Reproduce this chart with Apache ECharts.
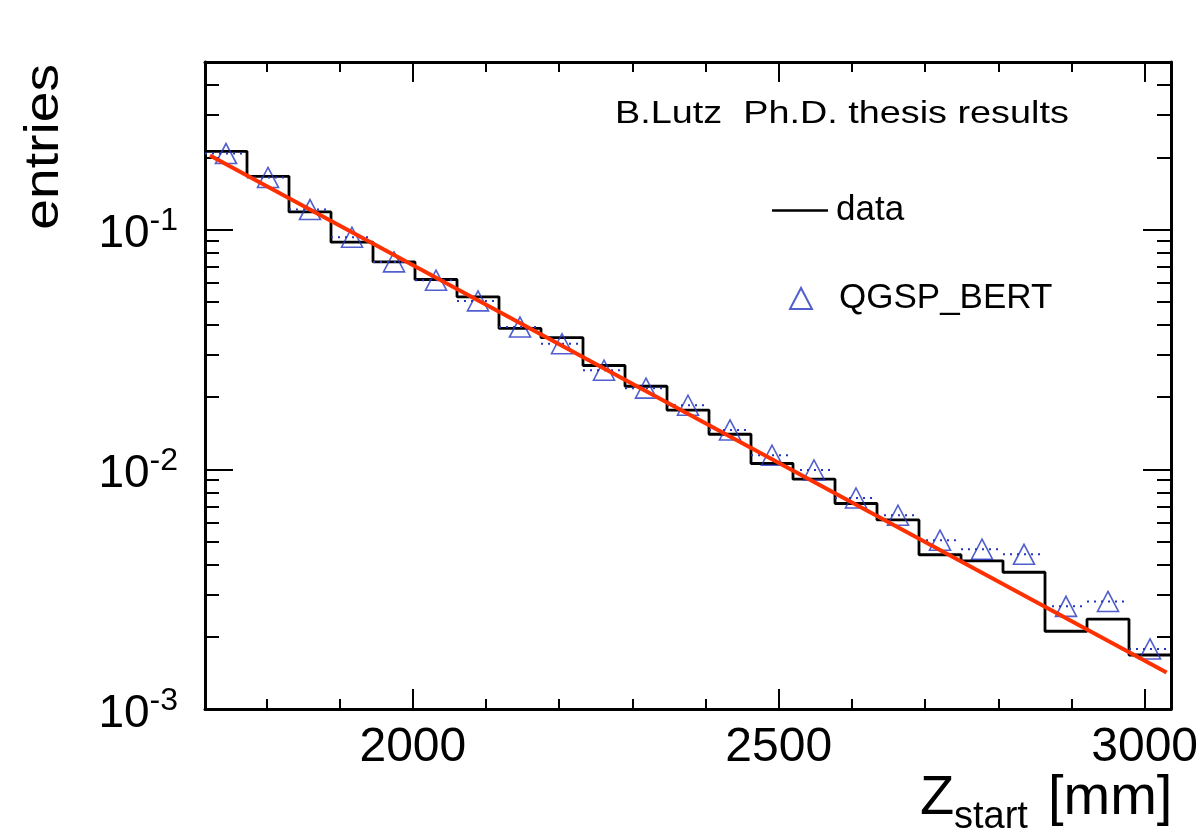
<!DOCTYPE html>
<html><head><meta charset="utf-8">
<script src="https://cdn.jsdelivr.net/npm/echarts@6/dist/echarts.min.js"></script>
<style>html,body{margin:0;padding:0;background:#fff}#c{width:1203px;height:837px}</style>
</head><body><div id="c"></div>
<script>
const FONT = '"Liberation Sans", Arial, Helvetica, sans-serif';
const BLUE = '#2536c0';
const RED = '#ff3000';

// ---- data ----
const xRange = [1716, 3036];
const nBins = 23;
const yRange = [0.001, 0.5];
const dataVals = [0.212, 0.1668, 0.1184, 0.0886, 0.0733, 0.0619, 0.0524, 0.0387, 0.0354, 0.0271, 0.0222, 0.01766,
  0.0140, 0.01057, 0.00909, 0.00720, 0.00615, 0.00440, 0.00415, 0.00372, 0.00211, 0.00237, 0.00168];
const mcVals = [0.2075, 0.165, 0.1212, 0.0929, 0.0733, 0.0615, 0.0504, 0.0392, 0.0334, 0.0259, 0.0218, 0.0185,
  0.01459, 0.01144, 0.00993, 0.00759, 0.00643, 0.00506, 0.00464, 0.00442, 0.00268, 0.00281, 0.00178];
const fitLine = [[1722.8, 0.2035], [3030, 0.00142]];
const xMajorTicks = [2000, 2500, 3000];
const xTickLabels = ['2000', '2500', '3000'];
const xMinorTicks = [1800, 1900, 2000, 2100, 2200, 2300, 2400, 2500, 2600, 2700, 2800, 2900, 3000];
const yMajorTicks = [0.001, 0.01, 0.1];
const yTickExponents = ['-3', '-2', '-1'];
const yMinorTicks = [0.002, 0.003, 0.004, 0.005, 0.006, 0.007, 0.008, 0.009,
  0.02, 0.03, 0.04, 0.05, 0.06, 0.07, 0.08, 0.09, 0.2, 0.3, 0.4, 0.5];

// ---- derived ----
const binW = (xRange[1] - xRange[0]) / nBins;
const edges = [];
for (let i = 0; i <= nBins; i++) edges.push(xRange[0] + i * binW);
const histPts = dataVals.map((v, i) => [edges[i], v]);
histPts.push([edges[nBins], dataVals[nBins - 1]]);
const mcBars = mcVals.map((v, i) => [edges[i], edges[i + 1], v]);
const mcPts = mcVals.map((v, i) => [(edges[i] + edges[i + 1]) / 2, v]);

function xAx(pos, ticks, len, showLine, labels) {
  return {
    type: 'value', position: pos, min: xRange[0], max: xRange[1],
    axisLine: { show: showLine, onZero: false, lineStyle: { color: '#000', width: 3 } },
    axisTick: { show: true, inside: true, length: len, customValues: ticks, lineStyle: { color: '#000', width: 2 } },
    axisLabel: labels ? {
      show: true, customValues: ticks, margin: 15, color: '#000', fontFamily: FONT, fontSize: 48,
      formatter: v => xTickLabels[xMajorTicks.indexOf(v)]
    } : { show: false },
    splitLine: { show: false }
  };
}
function yAx(pos, ticks, len, showLine, labels) {
  return {
    type: 'log', logBase: 10, position: pos, min: yRange[0], max: yRange[1],
    axisLine: { show: showLine, onZero: false, lineStyle: { color: '#000', width: 3 } },
    axisTick: { show: true, inside: true, length: len, customValues: ticks, lineStyle: { color: '#000', width: 2 } },
    axisLabel: labels ? {
      show: true, customValues: ticks, margin: 27, padding: [10, 0, 0, 0],
      formatter: v => {
        let k = 0, best = 1e9;
        yMajorTicks.forEach((t, j) => { const d = Math.abs(Math.log(v / t)); if (d < best) { best = d; k = j; } });
        return '{m|10}{s|' + yTickExponents[k] + '}';
      },
      rich: {
        m: { fontFamily: FONT, fontSize: 46, lineHeight: 58, color: '#000' },
        s: { fontFamily: FONT, fontSize: 32, lineHeight: 32, verticalAlign: 'top', color: '#000' }
      }
    } : { show: false },
    splitLine: { show: false }, minorTick: { show: false }
  };
}

const chart = echarts.init(document.getElementById('c'), null, { renderer: 'canvas' });
chart.setOption({
  animation: false,
  backgroundColor: '#fff',
  grid: { left: 205, right: 32, top: 62, bottom: 128 },
  xAxis: [
    xAx('bottom', xMajorTicks, 20, true, true),
    xAx('bottom', xMinorTicks, 10, false, false),
    xAx('top', xMajorTicks, 20, true, false),
    xAx('top', xMinorTicks, 10, false, false)
  ],
  yAxis: [
    yAx('left', yMajorTicks, 28, true, true),
    yAx('left', yMinorTicks, 14, false, false),
    yAx('right', yMajorTicks, 28, true, false),
    yAx('right', yMinorTicks, 14, false, false)
  ],
  legend: [
    {
      data: [{ name: 'data', icon: 'rect', itemStyle: { color: '#000' } }], left: 772, top: 193, orient: 'vertical', padding: 0,
      itemWidth: 56, itemHeight: 2.5, selectedMode: false,
      textStyle: { fontFamily: FONT, fontSize: 35, color: '#000', padding: [0, 0, 0, 3] }
    },
    {
      data: ['QGSP_BERT'], left: 789, top: 281, orient: 'vertical', padding: 0,
      itemWidth: 22, itemHeight: 21, selectedMode: false,
      textStyle: { fontFamily: FONT, fontSize: 35, color: '#000', padding: [0, 0, 0, 22] }
    }
  ],
  series: [
    {
      name: 'data', type: 'line', step: 'end', data: histPts, symbol: 'none',
      lineStyle: { color: '#000', width: 2.8 }, itemStyle: { color: '#000' }, z: 2
    },
    {
      name: 'QGSP_BERT errors', type: 'custom', data: mcBars, encode: { x: [0, 1], y: 2 }, z: 3,
      renderItem: function (params, api) {
        const a = api.coord([api.value(0), api.value(2)]);
        const b = api.coord([api.value(1), api.value(2)]);
        return { type: 'line', shape: { x1: a[0], y1: a[1], x2: b[0], y2: b[1] },
          style: { stroke: BLUE, lineWidth: 2, lineDash: [2, 5] } };
      }
    },
    {
      name: 'QGSP_BERT', type: 'scatter', data: mcPts, symbol: 'triangle', symbolSize: [21, 20], z: 4,
      itemStyle: { color: 'rgba(255,255,255,0)', borderColor: BLUE, borderWidth: 1.6 }
    },
    {
      name: 'fit', type: 'line', data: fitLine, symbol: 'none', z: 5,
      lineStyle: { color: RED, width: 4 }
    }
  ],
  graphic: [
    { type: 'text', x: 615, y: 114, scaleX: 1.2, style: { text: 'B.Lutz  Ph.D. thesis results', fontFamily: FONT, fontSize: 31.5, fill: '#000', align: 'left', verticalAlign: 'middle' } },
    { type: 'text', x: 45, y: 64, rotation: Math.PI / 2, scaleX: 1.15, style: { text: 'entries', fontFamily: FONT, fontSize: 48, fill: '#000', align: 'right', verticalAlign: 'middle' } },
    { type: 'text', x: 920, y: 799, style: { text: 'Z', fontFamily: FONT, fontSize: 56, fill: '#000', align: 'left', verticalAlign: 'middle' } },
    { type: 'text', x: 954, y: 818, style: { text: 'start', fontFamily: FONT, fontSize: 38, fill: '#000', align: 'left', verticalAlign: 'middle' } },
    { type: 'text', x: 1048, y: 799, style: { text: '[mm]', fontFamily: FONT, fontSize: 56, fill: '#000', align: 'left', verticalAlign: 'middle' } }
  ]
});
</script></body></html>
